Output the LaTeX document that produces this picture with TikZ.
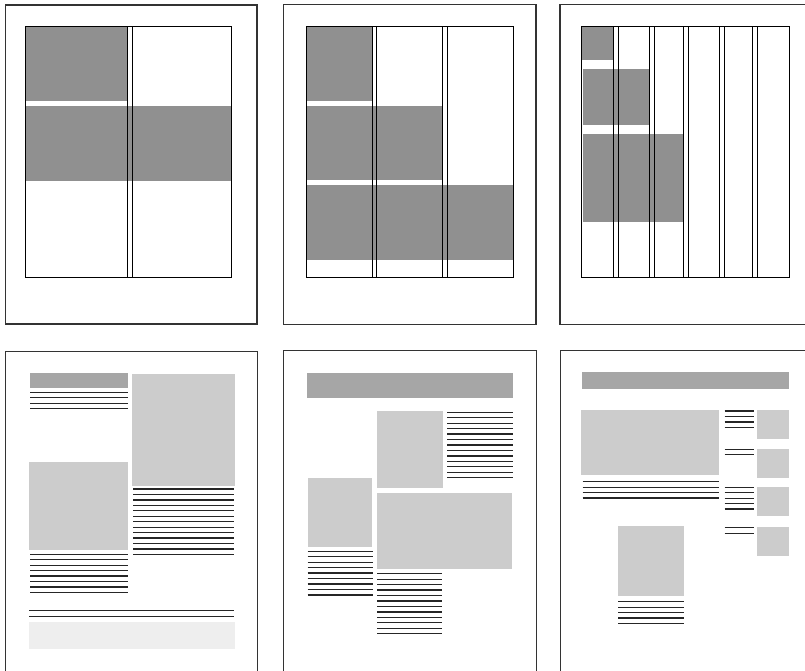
\documentclass[tikz,border=0pt]{standalone}
\definecolor{blockgray}{HTML}{909090}
\definecolor{headgray}{HTML}{A6A6A6}
\definecolor{imggray}{HTML}{CCCCCC}
\definecolor{footgray}{HTML}{EEEEEE}
\tikzset{
  frame/.style={draw=black!80, line width=1.1pt},
  gridline/.style={draw=black, line width=0.9pt},
  block/.style={fill=blockgray},
  headbar/.style={fill=headgray},
  image/.style={fill=imggray},
  footer/.style={fill=footgray},
  txt/.style={draw=black!85, line width=1.3pt}
}
\newcommand{\tlines}[4]{\foreach \i in {1,...,#4}{\draw[txt] (#1,{#3+(\i-1)*5.45}) -- (#2,{#3+(\i-1)*5.45});}}
\begin{document}
\begin{tikzpicture}[x=1pt,y=-1pt]
\useasboundingbox[fill=white] (0,0) rectangle (805,670);
\clip (0,0) rectangle (805,670);

% ===== Panel 1 =====
\draw[frame] (5.5,5) rectangle (257,324);
\fill[block] (25.3,26.7) rectangle (127.3,100.7);
\fill[block] (25.3,106) rectangle (231.7,181);
\draw[gridline] (25.3,26.7) rectangle (231.7,277.3);
\foreach \x in {127.3,132.3}{\draw[gridline] (\x,26.7) -- (\x,277.3);}

% ===== Panel 2 =====
\draw[frame] (283.5,4.5) rectangle (536,324.3);
\fill[block] (306.3,26.7) rectangle (372.3,100.7);
\fill[block] (306.3,106) rectangle (442.3,180);
\fill[block] (306.3,185) rectangle (513.3,259.7);
\draw[gridline] (306.3,26.7) rectangle (513.3,277.3);
\foreach \x in {372.3,376.3,442.3,447.3}{\draw[gridline] (\x,26.7) -- (\x,277.3);}

% ===== Panel 3 =====
\draw[frame] (560,4.5) rectangle (815,324.3);
\fill[block] (581.3,26.7) rectangle (613,60);
\fill[block] (582.7,69) rectangle (649.5,125);
\fill[block] (582.7,134.3) rectangle (683.7,221.7);
\draw[gridline] (581.3,26.7) rectangle (789.3,277.3);
\foreach \x in {613,618,649.7,654.3,683.7,688.3,719.7,724.3,752.7,757.7}{\draw[gridline] (\x,26.7) -- (\x,277.3);}

% ===== Panel 4 =====
\draw[frame] (5.5,351.5) rectangle (257.5,690);
\fill[headbar] (30,373) rectangle (127.7,387.7);
\tlines{30}{127.7}{392.3}{4}
\fill[image] (132.3,374) rectangle (235,485.7);
\tlines{133.3}{234.3}{489}{13}
\fill[image] (29,462) rectangle (128,549.7);
\tlines{30}{127.7}{554.3}{8}
\tlines{29}{234.3}{610.7}{2}
\fill[footer] (29,621.7) rectangle (235,649);

% ===== Panel 5 =====
\draw[frame] (283.7,350.7) rectangle (536.7,690);
\fill[headbar] (307,373) rectangle (513,397.7);
\fill[image] (377,411) rectangle (443,488);
\tlines{447.3}{512.7}{412.3}{13}
\fill[image] (308,478) rectangle (372,547);
\tlines{307.7}{372.7}{551.3}{9}
\fill[image] (377,493) rectangle (512,569);
\tlines{377.3}{442.3}{573.7}{12}

% ===== Panel 6 =====
\draw[frame] (560.7,350.3) rectangle (815,690);
\fill[headbar] (582,372) rectangle (789,388.7);
\fill[image] (581,410) rectangle (719,474.7);
\tlines{582.7}{719.3}{481.7}{4}
\tlines{724.7}{753.7}{411}{4}
\tlines{724.7}{753.7}{449.3}{2}
\tlines{724.7}{753.7}{487.3}{5}
\tlines{724.7}{753.7}{527.7}{2}
\fill[image] (757,410) rectangle (789,439);
\fill[image] (757,449) rectangle (789,477.7);
\fill[image] (757,487) rectangle (789,515.7);
\fill[image] (757,527) rectangle (789,555.7);
\fill[image] (618,526) rectangle (684,595.7);
\tlines{618.3}{683.7}{601.7}{5}
\end{tikzpicture}
\end{document}
